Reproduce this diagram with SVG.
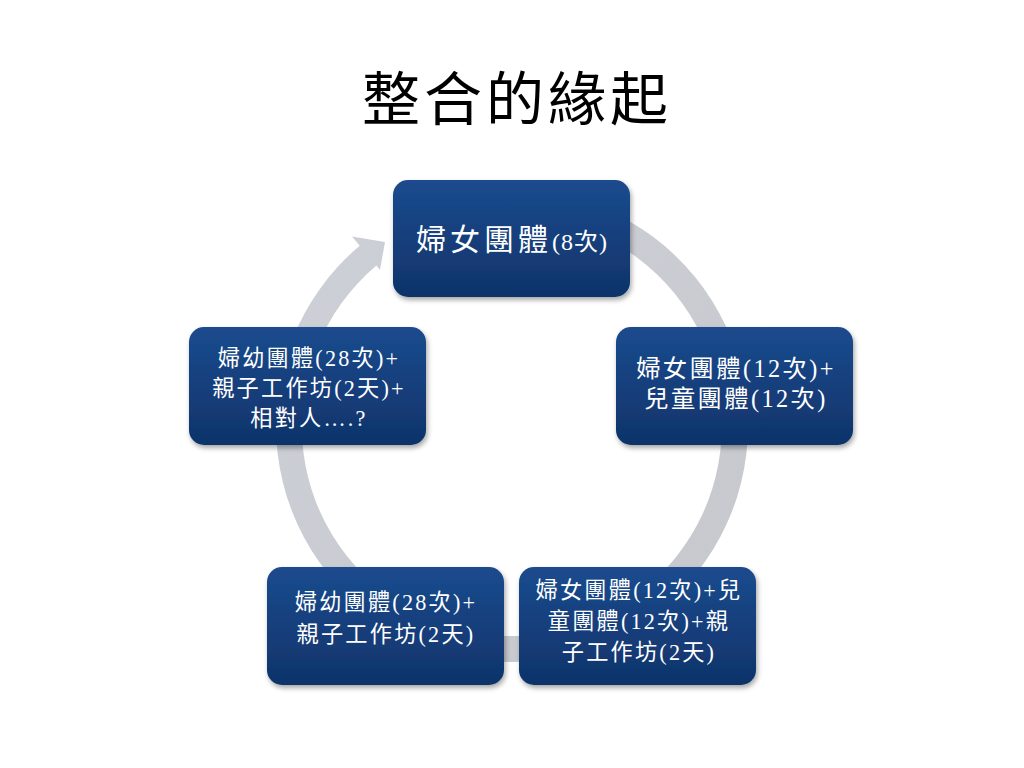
<svg xmlns="http://www.w3.org/2000/svg" width="1024" height="768" viewBox="0 0 1024 768">
  <defs>
    <linearGradient id="nodeFill" x1="0" y1="0" x2="0" y2="1">
      <stop offset="0" stop-color="#1b4b8e"/>
      <stop offset="1" stop-color="#0f336a"/>
    </linearGradient>
    <linearGradient id="ringFill" x1="0" y1="0" x2="1" y2="1">
      <stop offset="0" stop-color="#cdd0d6"/>
      <stop offset="1" stop-color="#c6c8ce"/>
    </linearGradient>
    <filter id="shadow" x="-10%" y="-10%" width="125%" height="130%">
      <feDropShadow dx="1.5" dy="3" stdDeviation="2.5" flood-color="#000000" flood-opacity="0.35"/>
    </filter>
  </defs>
  <style>
    .node rect { fill: url(#nodeFill); filter: url(#shadow); }
    .label { font-family: "Liberation Serif", "Noto Sans CJK TC", serif; fill: #ffffff; text-anchor: middle; }
    .s22 { font-size: 22.2px; letter-spacing: 2.2px; }
    .s24 { font-size: 24.3px; letter-spacing: 2.4px; }
    .title { font-family: "Liberation Serif", "Noto Sans CJK TC", serif; font-size: 58px; letter-spacing: 4px; fill: #000000; text-anchor: middle; }
  </style>

  <rect x="0" y="0" width="1024" height="768" fill="#ffffff"/>

  <text class="title" x="517" y="119.5">整合的緣起</text>

  <g id="connectors">
    <path fill="url(#ringFill)" d="M 431.3 204.2 A 236 236 0 1 1 359.7 245.7 L 352 236.6 L 385 242 L 380 270 L 376.4 265.6 A 210 210 0 1 0 440.2 228.7 Z"/>
  </g>

  <g id="node-top" class="node">
    <rect x="393" y="180" width="237" height="117" rx="15" ry="15"/>
    <text class="label" x="512" y="249.5"><tspan font-size="30" letter-spacing="4">婦女團體</tspan><tspan font-size="24" letter-spacing="1">(8次)</tspan></text>
  </g>

  <g id="node-right" class="node">
    <rect x="616" y="327" width="237" height="118" rx="15" ry="15"/>
    <text class="label s24" x="736" y="377">婦女團體(12次)+</text>
    <text class="label s24" x="736" y="407">兒童團體(12次)</text>
  </g>

  <g id="node-bottom-right" class="node">
    <rect x="519" y="567" width="237" height="118" rx="15" ry="15"/>
    <text class="label s22" x="639" y="597.5">婦女團體(12次)+兒</text>
    <text class="label s22" x="639" y="628.5">童團體(12次)+親</text>
    <text class="label s22" x="639" y="659.5">子工作坊(2天)</text>
  </g>

  <g id="node-bottom-left" class="node">
    <rect x="267" y="567" width="237" height="118" rx="15" ry="15"/>
    <text class="label s22" x="386" y="609.5">婦幼團體(28次)+</text>
    <text class="label s22" x="386" y="641.5">親子工作坊(2天)</text>
  </g>

  <g id="node-left" class="node">
    <rect x="189" y="327" width="237" height="118" rx="15" ry="15"/>
    <text class="label s22" x="309" y="366">婦幼團體(28次)+</text>
    <text class="label s22" x="309" y="395.5">親子工作坊(2天)+</text>
    <text class="label s22" x="309" y="425.5">相對人….?</text>
  </g>
</svg>
